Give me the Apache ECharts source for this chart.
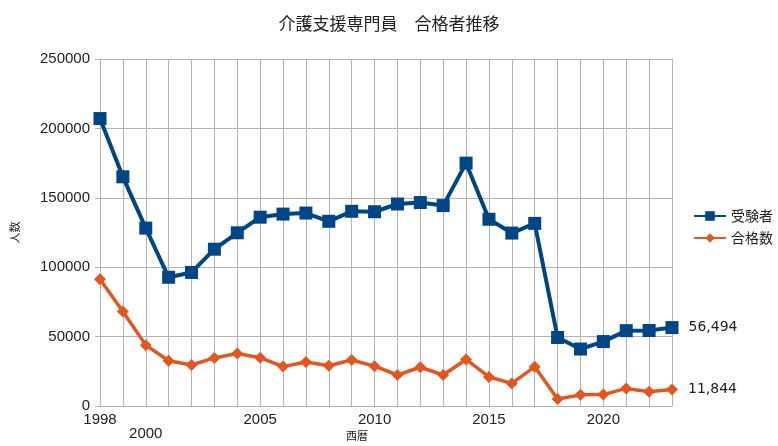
<!DOCTYPE html>
<html>
<head>
<meta charset="utf-8">
<script src="https://cdn.jsdelivr.net/npm/echarts@6/dist/echarts.min.js"></script>
<style>
html,body{margin:0;padding:0;background:#fff;}
#chart{width:778px;height:446px;}
</style>
</head>
<body>
<div id="chart"></div>
<script>
const years=['1998','1999','2000','2001','2002','2003','2004','2005','2006','2007','2008','2009','2010',
  '2011','2012','2013','2014','2015','2016','2017','2018','2019','2020','2021','2022','2023'];
const examinees=[207080,165117,128153,92735,96207,112961,124791,136030,138262,139006,133072,140277,139959,
  145529,146586,144397,174974,134539,124585,131560,49333,41049,46415,54290,54406,56494];
const passed=[91269,68090,43854,32560,29508,34634,37781,34813,28391,31758,28992,33119,28703,
  22332,27905,22331,33539,20924,16281,28233,4990,8018,8200,12662,10328,11844];
const shownYears=['1998','2000','2005','2010','2015','2020'];

const font='"Noto Sans CJK JP","Liberation Sans",sans-serif';
const blue='#004586';
const orange='#e4561f';

// 最後の点だけラベルを出す
function lastLabel(){
  return {
    show:true,position:'right',distance:10,
    color:'#222',fontSize:14,fontFamily:'"DejaVu Sans",sans-serif',
    formatter:p=>p.dataIndex===years.length-1?p.value.toLocaleString('en-US'):''
  };
}

const chart=echarts.init(document.getElementById('chart'));
chart.setOption({
  animation:false,
  title:{
    text:'介護支援専門員　合格者推移',left:'center',top:10,
    textStyle:{fontFamily:font,fontSize:17,fontWeight:'normal',color:'#222'}
  },
  legend:{
    orient:'vertical',left:693,top:209,padding:0,itemGap:8,itemWidth:32,itemHeight:12,
    textStyle:{fontFamily:font,fontSize:14,color:'#222'},
    data:['受験者','合格数']
  },
  grid:{left:100,right:106,top:59,bottom:40,outerBoundsMode:'none'},
  xAxis:{
    type:'category',data:years,boundaryGap:false,
    name:'西暦',nameLocation:'middle',nameGap:24,nameMoveOverlap:false,
    nameTextStyle:{fontFamily:font,fontSize:11,color:'#222',padding:[0,58,0,0]},
    axisLine:{lineStyle:{color:'#b3b3b3'}},
    axisTick:{show:false},
    axisLabel:{
      interval:0,margin:7,color:'#222',fontSize:15,lineHeight:14,
      fontFamily:'"Liberation Sans",sans-serif',
      formatter:v=>shownYears.indexOf(v)<0?'':(v==='2000'?'\n'+v:v)
    },
    splitLine:{show:true,lineStyle:{color:'#b3b3b3'}}
  },
  yAxis:{
    type:'value',min:0,max:250000,interval:50000,
    name:'人数',nameLocation:'middle',nameGap:80,nameRotate:90,
    nameTextStyle:{fontFamily:font,fontSize:11,color:'#222'},
    axisLine:{show:true,lineStyle:{color:'#b3b3b3'}},
    axisTick:{show:true,length:5,lineStyle:{color:'#b3b3b3'}},
    axisLabel:{color:'#222',fontSize:15,fontFamily:'"Liberation Sans",sans-serif',margin:10,
      formatter:v=>String(v)},
    splitLine:{lineStyle:{color:'#b3b3b3'}}
  },
  series:[
    {
      name:'受験者',type:'line',data:examinees,
      symbol:'rect',symbolSize:13,
      lineStyle:{color:blue,width:4},itemStyle:{color:blue},
      label:lastLabel()
    },
    {
      name:'合格数',type:'line',data:passed,
      symbol:'diamond',symbolSize:12,
      lineStyle:{color:orange,width:3.5},itemStyle:{color:orange},
      label:lastLabel()
    }
  ]
});
</script>
</body>
</html>
